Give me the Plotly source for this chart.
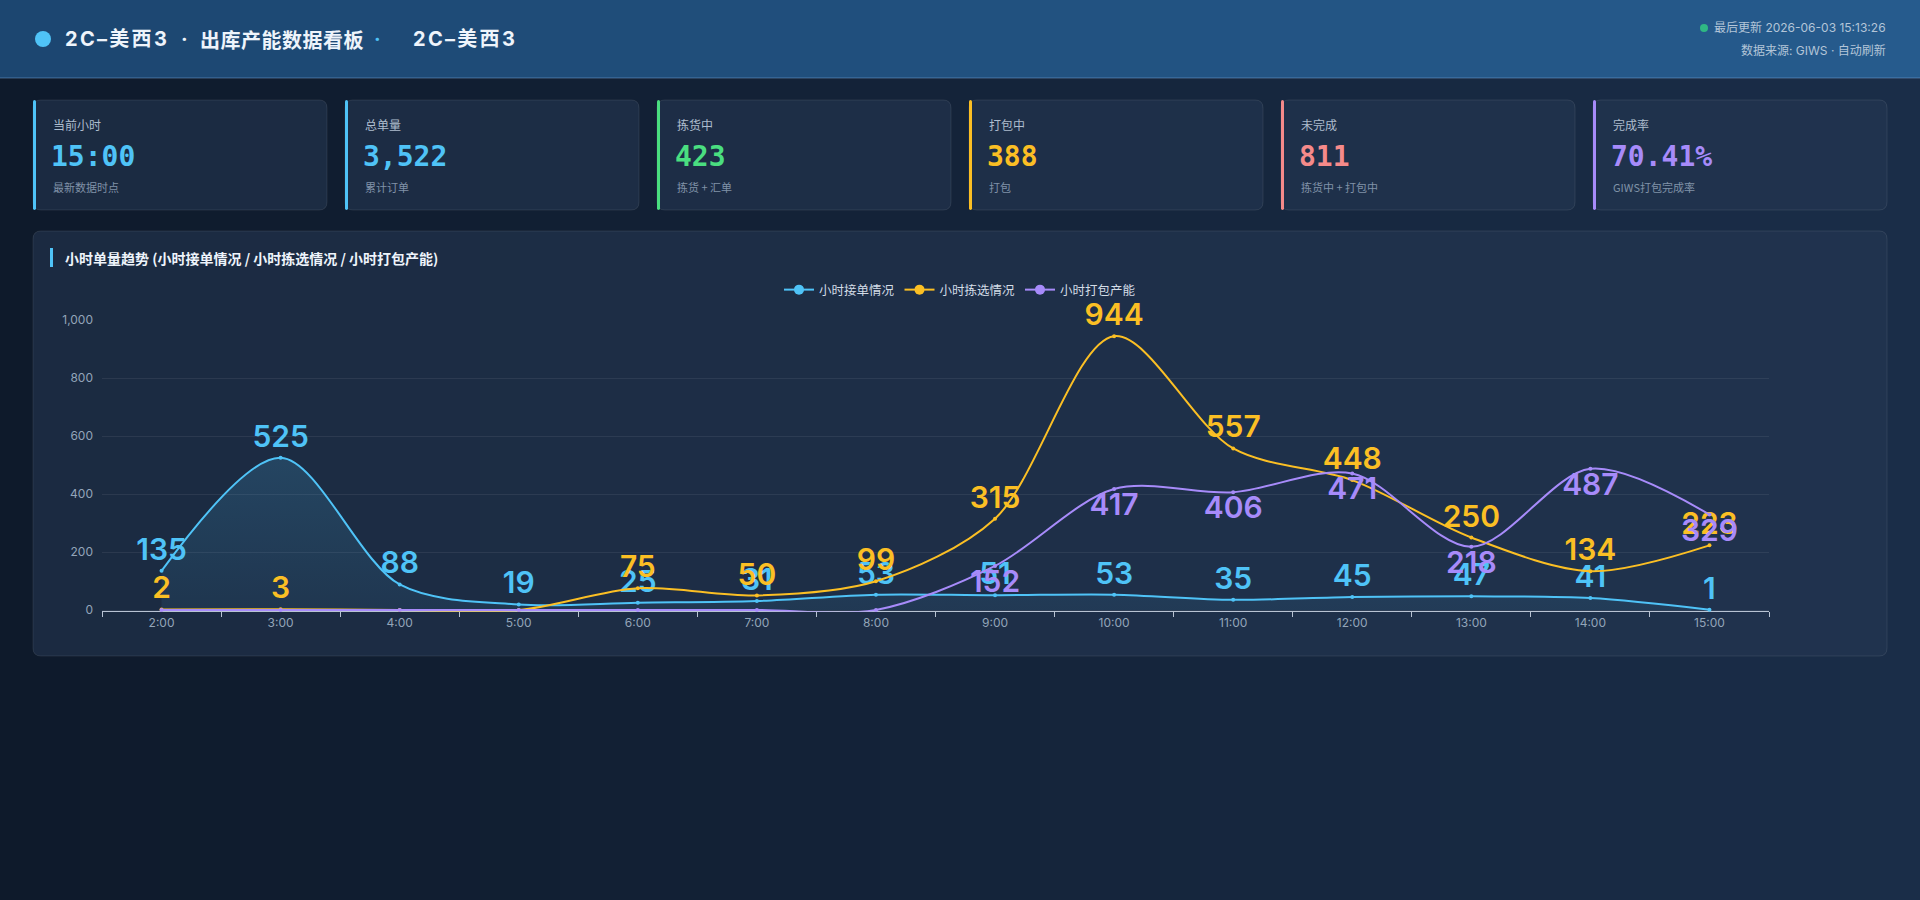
import plotly.graph_objects as go

# chart data
hours = ['2:00', '3:00', '4:00', '5:00', '6:00', '7:00', '8:00',
         '9:00', '10:00', '11:00', '12:00', '13:00', '14:00', '15:00']
orders_received = [135, 525, 88, 19, 25, 31, 53, 51, 53, 35, 45, 47, 41, 1]
orders_picked = [2, 3, 0, 0, 75, 50, 99, 315, 944, 557, 448, 250, 134, 223]
orders_packed = [0, 0, 0, 0, 0, 0, 0, 152, 417, 406, 471, 218, 487, 329]
series_names = ['小时接单情况', '小时拣选情况', '小时打包产能']
y_ticks = [0, 200, 400, 600, 800, 1000]

# KPI cards
card_titles = ['当前小时', '总单量', '拣货中', '打包中', '未完成', '完成率']
card_values = ['15:00', '3,522', '423', '388', '811', '70.41%']
card_notes = ['最新数据时点', '累计订单', '拣货 + 汇单', '打包', '拣货中 + 打包中', 'GIWS打包完成率']

site_name = '2C–美西3'
board_name = '出库产能数据看板'

BLUE, YELLOW, PURPLE = '#4fc3f7', '#fbbf24', '#a78bfa'
card_colors = [BLUE, BLUE, '#4ade80', YELLOW, '#f58a8a', PURPLE]

W, H = 1920, 900
CJK = 'Noto Sans CJK SC'
SANS = 'Inter, Noto Sans CJK SC'
MONO = 'DejaVu Sans Mono'


def px(x):
    return x / W


def py(y):
    return 1 - y / H


def mix(c1, c2, t):
    a = [int(c1[i:i + 2], 16) for i in (1, 3, 5)]
    b = [int(c2[i:i + 2], 16) for i in (1, 3, 5)]
    return 'rgb(%d,%d,%d)' % tuple(round(a[k] + (b[k] - a[k]) * t) for k in range(3))


def rounded_rect(x0, y0, x1, y1, r):
    pts = [('M', x0 + r, y0), ('L', x1 - r, y0), ('Q', x1, y0, x1, y0 + r),
           ('L', x1, y1 - r), ('Q', x1, y1, x1 - r, y1), ('L', x0 + r, y1),
           ('Q', x0, y1, x0, y1 - r), ('L', x0, y0 + r), ('Q', x0, y0, x0 + r, y0)]
    out = []
    for p in pts:
        coords = p[1:]
        s = ' '.join('%.5f,%.5f' % (px(coords[i]), py(coords[i + 1])) for i in range(0, len(coords), 2))
        out.append(p[0] + ' ' + s)
    return ' '.join(out) + ' Z'


def label(x, y, text, size, color, family=CJK, anchor='left'):
    annotations.append(dict(x=px(x), y=py(y), xref='paper', yref='paper', xanchor=anchor,
                            yanchor='middle', showarrow=False, text=text,
                            font=dict(family=family, size=size, color=color)))


shapes = []
annotations = []

# page background gradient (left dark -> right lighter)
n = 48
for i in range(n):
    shapes.append(dict(type='rect', xref='paper', yref='paper', layer='below',
                       x0=i / n, x1=(i + 1) / n + 0.001, y0=0, y1=1, line_width=0,
                       fillcolor=mix('#0e1a2b', '#1a2d48', i / (n - 1))))

# header band
for i in range(n):
    shapes.append(dict(type='rect', xref='paper', yref='paper', layer='below',
                       x0=i / n, x1=(i + 1) / n + 0.001, y0=py(78), y1=1, line_width=0,
                       fillcolor=mix('#1c4670', '#265b8d', i / (n - 1))))
shapes.append(dict(type='line', xref='paper', yref='paper', layer='below',
                   x0=0, x1=1, y0=py(78), y1=py(78), line=dict(color='rgba(130,180,230,0.45)', width=1)))
shapes.append(dict(type='circle', xref='paper', yref='paper', layer='below',
                   x0=px(35), x1=px(51), y0=py(31), y1=py(47), line_width=0, fillcolor=BLUE))

# header title, in pieces
TITLE_C = '#eef4fb'
label(63, 39, "<b><span style='letter-spacing:2.3px'>%s</span></b>" % site_name, 20, TITLE_C, SANS)
label(184, 39, '<b>·</b>', 20, TITLE_C, SANS, 'center')
label(198, 39, "<b><span style='letter-spacing:0.5px'>%s</span></b>" % board_name, 20, TITLE_C, CJK)
label(377, 39, '<b>·</b>', 20, BLUE, SANS, 'center')
label(411, 39, "<b><span style='letter-spacing:2.3px'>%s</span></b>" % site_name, 20, TITLE_C, SANS)

# header right: update status
shapes.append(dict(type='circle', xref='paper', yref='paper', layer='below',
                   x0=px(1700), x1=px(1708), y0=py(24), y1=py(32), line_width=0, fillcolor='#2fb884'))
label(1888, 28, '最后更新 2026-06-03 15:13:26', 12, '#b3c5d8', SANS, 'right')
label(1888, 50, '数据来源: GIWS · 自动刷新', 12, '#b3c5d8', SANS, 'right')

# KPI cards
card_w, card_gap = 294, 18
for i in range(len(card_titles)):
    x0 = 33 + i * (card_w + card_gap)
    x1 = x0 + card_w
    shapes.append(dict(type='path', xref='paper', yref='paper', layer='below',
                       path=rounded_rect(x0, 100, x1, 210, 8),
                       fillcolor='rgba(38,56,84,0.55)', line=dict(color='rgba(255,255,255,0.09)', width=1)))
    shapes.append(dict(type='path', xref='paper', yref='paper', layer='below',
                       path=rounded_rect(x0, 100, x0 + 3, 210, 1.5),
                       fillcolor=card_colors[i], line_width=0))
    label(x0 + 18, 124, card_titles[i], 12, '#aebdce')
    label(x0 + 16, 157, '<b>%s</b>' % card_values[i], 28, card_colors[i], MONO)
    label(x0 + 18, 187, card_notes[i], 11, '#8092a8')

# chart card
shapes.append(dict(type='path', xref='paper', yref='paper', layer='below',
                   path=rounded_rect(33, 231, 1887, 656, 8),
                   fillcolor='rgba(38,56,84,0.55)', line=dict(color='rgba(255,255,255,0.09)', width=1)))
shapes.append(dict(type='rect', xref='paper', yref='paper', layer='below',
                   x0=px(50), x1=px(53), y0=py(267), y1=py(248), line_width=0, fillcolor=BLUE))
label(63, 258, '<b>小时单量趋势 (小时接单情况 / 小时拣选情况 / 小时打包产能)</b>', 14, TITLE_C)

fig = go.Figure()

series = [
    (orders_received, BLUE, 'top center'),
    (orders_picked, YELLOW, 'top center'),
    (orders_packed, PURPLE, 'bottom center'),
]
for k, (vals, color, pos) in enumerate(series):
    texts = [str(v) if v else '' for v in vals]
    trace = dict(
        x=hours, y=vals, mode='lines+markers+text', name=series_names[k], showlegend=False,
        line=dict(color=color, width=2, shape='spline', smoothing=0.9),
        marker=dict(color=color, size=4),
        text=texts, textposition=pos, cliponaxis=False,
        textfont=dict(family='Inter', size=30, color=color, weight=600),
        hoverinfo='x+y+name',
    )
    if k == 0:
        trace['fill'] = 'tozeroy'
        trace['fillgradient'] = dict(type='vertical',
                                     colorscale=[[0, 'rgba(79,195,247,0.07)'], [1, 'rgba(79,195,247,0.17)']])
    fig.add_trace(go.Scatter(**trace))

# legend entries with bigger symbols
for k, color in enumerate([BLUE, YELLOW, PURPLE]):
    fig.add_trace(go.Scatter(x=[None], y=[None], mode='lines+markers', name=series_names[k],
                             line=dict(color=color, width=2), marker=dict(color=color, size=10)))

# y range starts a touch below zero so the zero lines are not clipped
y_min = -5
fig.update_layout(
    width=W, height=H, margin=dict(l=0, r=0, t=0, b=0, pad=0, autoexpand=False),
    paper_bgcolor='#111e31', plot_bgcolor='rgba(0,0,0,0)',
    shapes=shapes, annotations=annotations,
    font=dict(family=SANS, color='#cfd8e3'),
    legend=dict(orientation='h', x=0.5, xanchor='center', y=py(290), yanchor='middle',
                font=dict(family=CJK, size=12.5, color='#d3dce6'), bgcolor='rgba(0,0,0,0)',
                itemwidth=30, tracegroupgap=0),
    xaxis=dict(domain=[px(102), px(1769)], type='category', range=[-0.5, len(hours) - 0.5],
               showgrid=False, showline=True, linecolor='#b8c3d3', linewidth=1, layer='below traces',
               ticks='outside', tickson='boundaries', ticklen=5, tickcolor='#b8c3d3',
               tickfont=dict(family='Inter', size=12, color='#93a5b9'), zeroline=False,
               fixedrange=True, automargin=False),
    yaxis=dict(domain=[py(610 - y_min * 0.29), py(320)], range=[y_min, 1000], tickvals=y_ticks,
               tickformat=',', showgrid=True, gridcolor='rgba(255,255,255,0.07)', gridwidth=1,
               zeroline=False, showline=False, ticks='', ticklabelstandoff=8, layer='below traces',
               tickfont=dict(family='Inter', size=12, color='#93a5b9'), fixedrange=True, automargin=False),
    hovermode='closest',
)

fig.write_html('out.html', config={'displayModeBar': False},
               post_script="document.body.style.margin='0';document.body.style.overflow='hidden';")
